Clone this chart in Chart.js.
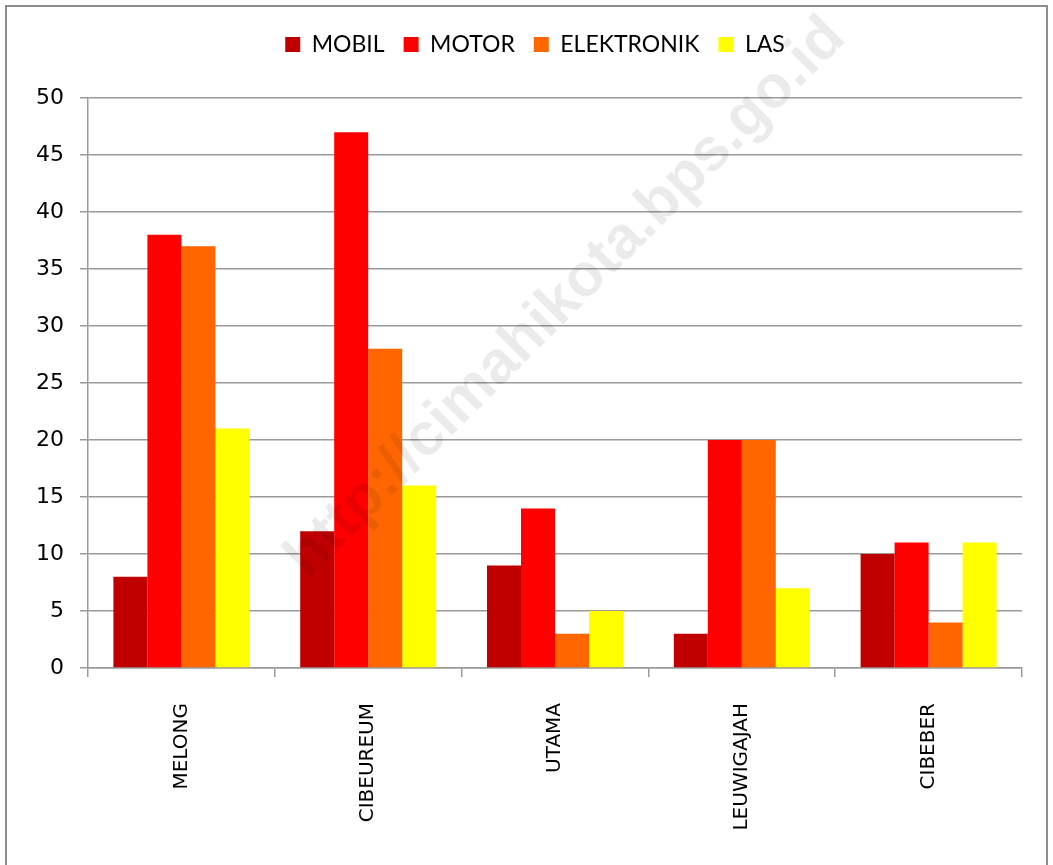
<!DOCTYPE html>
<html>
<head>
<meta charset="utf-8">
<script src="https://cdn.jsdelivr.net/npm/chart.js@4"></script>
<style>
  html, body { margin: 0; padding: 0; background: #fff; }
  #frame { position: absolute; left: 5px; top: 5px; width: 1043px; height: 900px; border: 2px solid #8c8c8c; border-bottom: none; box-sizing: border-box; pointer-events: none; }
  #wrap { position: absolute; left: 0; top: 0; width: 1053px; height: 865px; }
</style>
</head>
<body>
<div id="wrap"><canvas id="kelurahanChart"></canvas></div>
<div id="frame"></div>
<script>
// ─── Data ───
const categories = ['MELONG', 'CIBEUREUM', 'UTAMA', 'LEUWIGAJAH', 'CIBEBER'];
const mobil = [8, 12, 9, 3, 10];
const motor = [38, 47, 14, 20, 11];
const elektronik = [37, 28, 3, 20, 4];
const las = [21, 16, 5, 7, 11];
const seriesNames = ['MOBIL', 'MOTOR', 'ELEKTRONIK', 'LAS'];
const seriesColors = ['#c00000', '#ff0000', '#ff6600', '#ffff00'];
const yTicks = [0, 5, 10, 15, 20, 25, 30, 35, 40, 45, 50];
const watermarkText = 'http://cimahikota.bps.go.id';

const gridColor = '#9a9a9a';
const fontFamily = "'DejaVu Sans', Verdana, sans-serif";

// faint diagonal watermark drawn over the bars
const watermark = {
    id: 'watermark',
    afterDatasetsDraw(chart) {
        const ctx = chart.ctx;
        ctx.save();
        ctx.translate(566, 298);
        ctx.rotate(-Math.PI / 4);
        ctx.font = "bold 60px 'Liberation Sans', Arial, sans-serif";
        ctx.fillStyle = 'rgba(0, 0, 0, 0.08)';
        ctx.textAlign = 'center';
        ctx.textBaseline = 'middle';
        ctx.fillText(watermarkText, 0, 0);
        ctx.restore();
    }
};

// force legend block height so the plot starts where the reference does,
// and nudge it right so it sits centred over the plot like the original
const legendHeight = {
    id: 'legendHeight',
    beforeInit(chart) {
        const fit = chart.legend.fit;
        chart.legend.fit = function () {
            fit.bind(chart.legend)();
            this.height = 84;
        };
    },
    afterLayout(chart) {
        chart.legend.left += 24;
        chart.legend.right += 24;
    }
};

const datasets = [mobil, motor, elektronik, las].map((values, i) => ({
    label: seriesNames[i],
    data: values,
    backgroundColor: seriesColors[i],
    borderWidth: 0,
    barPercentage: 1,
    categoryPercentage: 0.728
}));

new Chart(document.getElementById('kelurahanChart'), {
    type: 'bar',
    data: { labels: categories, datasets: datasets },
    plugins: [legendHeight, watermark],
    options: {
        responsive: true,
        maintainAspectRatio: false,
        animation: false,
        layout: { padding: { top: 14, right: 31, left: 0, bottom: 0 } },
        plugins: {
            legend: {
                position: 'top',
                labels: {
                    boxWidth: 15,
                    boxHeight: 15,
                    padding: 19,
                    color: '#000',
                    font: { family: "Lato, 'Open Sans', sans-serif", size: 23 }
                }
            },
            tooltip: { enabled: false }
        },
        scales: {
            y: {
                min: 0,
                max: 50,
                afterFit(scale) { scale.width = 88; },
                afterBuildTicks(scale) { scale.ticks = yTicks.map(v => ({ value: v })); },
                grid: { color: gridColor, lineWidth: 1.5, tickLength: 8 },
                border: { color: gridColor, width: 1.5 },
                ticks: {
                    padding: 16,
                    color: '#000',
                    font: { family: fontFamily, size: 22 }
                }
            },
            x: {
                afterFit(scale) { scale.height = 197; },
                grid: { drawOnChartArea: false, color: gridColor, lineWidth: 1.5, tickLength: 9 },
                border: { color: gridColor, width: 1.5 },
                ticks: {
                    minRotation: 90,
                    maxRotation: 90,
                    padding: 26,
                    color: '#000',
                    font: { family: fontFamily, size: 20 }
                }
            }
        }
    }
});
</script>
</body>
</html>
